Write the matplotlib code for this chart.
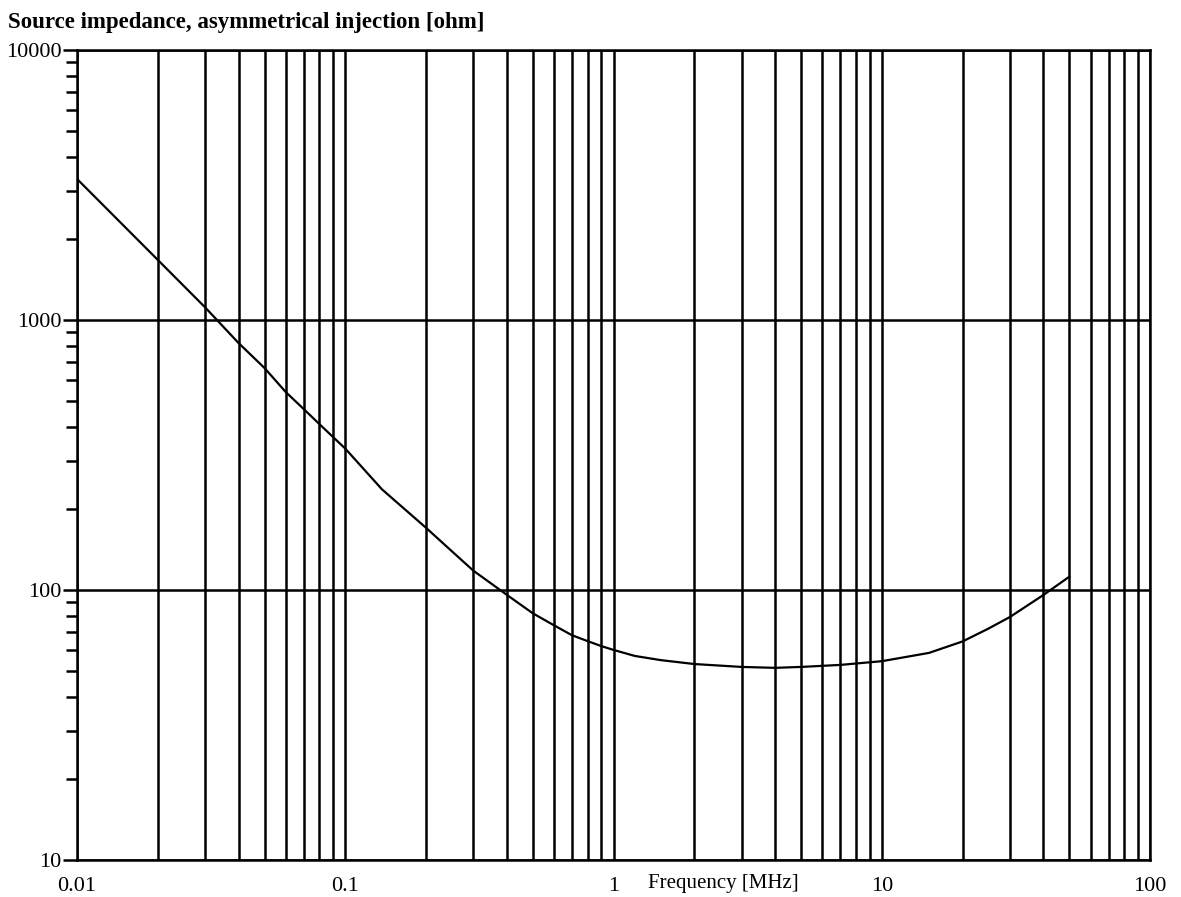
import numpy as np
import matplotlib
matplotlib.use("Agg")
import matplotlib.pyplot as plt
from matplotlib.ticker import LogLocator, NullFormatter, FixedLocator, FixedFormatter

freq = [0.01, 0.02, 0.03, 0.04, 0.05, 0.06, 0.07, 0.08, 0.1, 0.137, 0.2, 0.25, 0.3, 0.4,
        0.5, 0.6, 0.7, 0.8, 0.9, 1, 1.2, 1.5, 2, 3, 4, 5, 7, 10, 15, 20, 25, 30, 40, 50]
imp = [3330, 1670, 1115, 822, 664, 541, 468, 412, 334, 236, 170, 139, 118, 96,
       82, 74, 68, 64.7, 62, 60, 57, 55, 53.2, 51.9, 51.5, 51.9, 52.8, 54.5, 58.5, 64.5, 72, 79.4, 95.8, 112]

x_ticks = [0.01, 0.1, 1, 10, 100]
x_labels = ["0.01", "0.1", "1", "10", "100"]
y_ticks = [10, 100, 1000, 10000]
y_labels = ["10", "100", "1000", "10000"]

plt.rcParams['font.family'] = ['Liberation Serif', 'DejaVu Serif']

fig = plt.figure(figsize=(11.81, 8.97), dpi=100)
ax = fig.add_axes([0.0652, 0.0412, 0.9086, 0.9031])

ax.set_xscale("log")
ax.set_yscale("log")
ax.set_xlim(0.01, 100)
ax.set_ylim(10, 10000)

ax.plot(freq, imp, color="black", lw=1.6, zorder=3)

# vertical grid at every 1..9 position, horizontal only at decades
ax.xaxis.set_major_locator(FixedLocator(x_ticks))
ax.xaxis.set_major_formatter(FixedFormatter(x_labels))
ax.xaxis.set_minor_locator(LogLocator(base=10, subs=np.arange(2, 10)))
ax.xaxis.set_minor_formatter(NullFormatter())
ax.yaxis.set_major_locator(FixedLocator(y_ticks))
ax.yaxis.set_major_formatter(FixedFormatter(y_labels))
ax.yaxis.set_minor_locator(LogLocator(base=10, subs=np.arange(2, 10)))
ax.yaxis.set_minor_formatter(NullFormatter())

ax.grid(True, which="both", axis="x", color="black", lw=1.8)
ax.grid(True, which="major", axis="y", color="black", lw=1.8)

ax.tick_params(axis="x", which="both", length=0, pad=12, labelsize=16)
ax.tick_params(axis="y", which="major", length=10, width=1.8, pad=1, labelsize=16, direction="out")
ax.tick_params(axis="y", which="minor", length=8, width=1.8, direction="out")

for s in ax.spines.values():
    s.set_linewidth(1.8)

fig.text(8 / 1181, 1 - 28 / 897, "Source impedance, asymmetrical injection [ohm]",
         fontsize=16.5, fontweight="bold", ha="left", va="baseline")

ax.annotate("Frequency [MHz]", xy=(2.56, 0), xycoords=("data", "axes fraction"),
            xytext=(0, -10), textcoords="offset points", ha="center", va="top", fontsize=15)

fig.savefig("out.png", dpi=100)
